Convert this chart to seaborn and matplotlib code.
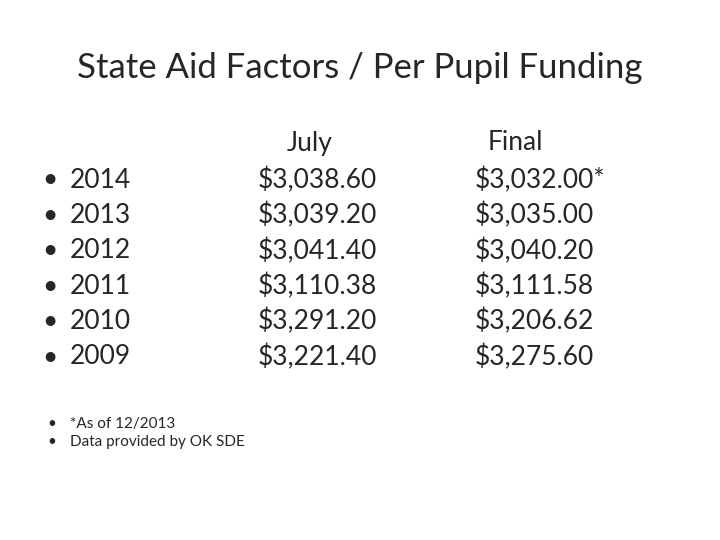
import matplotlib.pyplot as plt
import seaborn as sns

sns.set_theme(style="white")
plt.rcParams['font.family'] = ['Lato', 'DejaVu Sans']

title = "State Aid Factors / Per Pupil Funding"
years = ["2014", "2013", "2012", "2011", "2010", "2009"]
july = ["$3,038.60", "$3,039.20", "$3,041.40", "$3,110.38", "$3,291.20", "$3,221.40"]
final = ["$3,032.00*", "$3,035.00", "$3,040.20", "$3,111.58", "$3,206.62", "$3,275.60"]
notes = ["*As of 12/2013", "Data provided by OK SDE"]

fig = plt.figure(figsize=(7.2, 5.4), dpi=100)
ax = fig.add_axes([0, 0, 1, 1])
ax.set_xlim(0, 720)
ax.set_ylim(540, 0)
ax.axis("off")

ax.text(360, 68, title, ha="center", va="center", fontsize=25)
ax.text(310, 143, "July", ha="center", va="center", fontsize=19)
ax.text(515, 143, "Final", ha="center", va="center", fontsize=19)

y0, dy = 180, 35.4
for i, (yr, j, f) in enumerate(zip(years, july, final)):
    y = y0 + i * dy
    ax.text(50, y, "\u2022", ha="center", va="center", fontsize=19)
    ax.text(70, y, yr, ha="left", va="center", fontsize=19)
    ax.text(258, y, j, ha="left", va="center", fontsize=19)
    ax.text(475, y, f, ha="left", va="center", fontsize=19)

for i, n in enumerate(notes):
    y = 424 + i * 18
    ax.text(52, y, "\u2022", ha="center", va="center", fontsize=11)
    ax.text(70, y, n, ha="left", va="center", fontsize=11)

fig.savefig("out.png", dpi=100, facecolor="white")
